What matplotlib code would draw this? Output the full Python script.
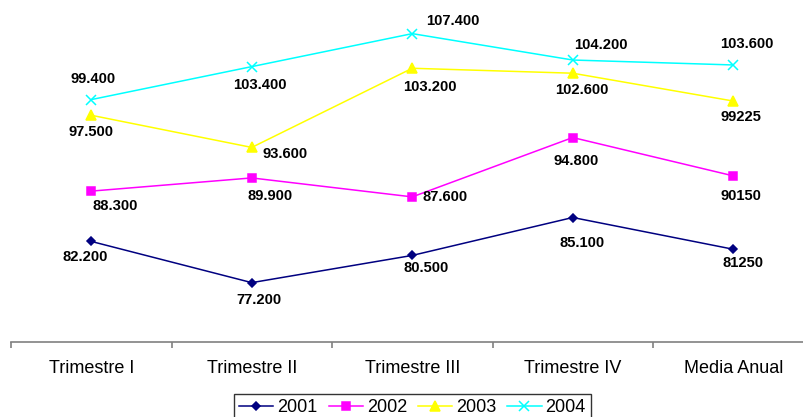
import matplotlib
matplotlib.use("Agg")
import matplotlib.pyplot as plt

plt.rcParams['font.family'] = ['Liberation Sans', 'DejaVu Sans']

# quarterly figures per year, plus the yearly mean
categories = ['Trimestre I', 'Trimestre II', 'Trimestre III', 'Trimestre IV', 'Media Anual']
years = ['2001', '2002', '2003', '2004']
v2001 = [82200, 77200, 80500, 85100, 81250]
v2002 = [88300, 89900, 87600, 94800, 90150]
v2003 = [97500, 93600, 103200, 102600, 99225]
v2004 = [99400, 103400, 107400, 104200, 103600]
series = [v2001, v2002, v2003, v2004]

# the computed means of 2001-2003 are printed without a thousands separator
mean_grouped = [False, False, False, True]

colors = ['#000080', '#FF00FF', '#FFFF00', '#00FFFF']
markers = ['D', 's', '^', 'x']
msizes = [4.5, 5.5, 6.5, 6.5]

# label offsets in pixels (dx right, dy down) for each point
offsets = [
    [(-6, 16), (7, 17), (14, 13), (9, 25), (10, 14)],
    [(24, 15), (18, 18), (33, 0), (3, 23), (8, 20)],
    [(0, 17), (33, 7), (18, 19), (9, 17), (8, 16)],
    [(2, -21), (8, 18), (41, -13), (28, -15), (14, -21)],
]


def fmt(v, grouped):
    if grouped:
        return f"{v:,.0f}".replace(",", ".")
    return f"{v:.0f}"


fig = plt.figure(figsize=(8.04, 4.17), dpi=100)
ax = fig.add_axes([11 / 804, 75 / 417, 802.5 / 804, 329.8 / 417])

x = list(range(len(categories)))
lines = []
for i, vals in enumerate(series):
    ln, = ax.plot(x, vals, color=colors[i], marker=markers[i], markersize=msizes[i],
                  markeredgewidth=1.1, linewidth=1.1, label=years[i], clip_on=False)
    lines.append(ln)
    for j, v in enumerate(vals):
        grouped = mean_grouped[i] if j == len(vals) - 1 else True
        dx, dy = offsets[i][j]
        ax.annotate(fmt(v, grouped), (x[j], v), xytext=(dx, -dy),
                    textcoords='offset pixels', ha='center', va='center',
                    fontsize=10.6, fontweight='bold', color='black')

ax.set_xlim(-0.5, len(categories) - 0.5)
ax.set_ylim(70000, 110000)

for s in ['top', 'right', 'left']:
    ax.spines[s].set_visible(False)
ax.spines['bottom'].set_color('#808080')
ax.spines['bottom'].set_linewidth(1.2)
ax.set_yticks([])

# category boundaries as major ticks, names on minor ticks
ax.set_xticks([k - 0.5 for k in range(len(categories) + 1)])
ax.set_xticklabels([])
ax.set_xticks(x, minor=True)
ax.set_xticklabels(categories, minor=True, fontsize=13)
ax.tick_params(axis='x', which='major', length=4, width=1.2, color='#808080', direction='out')
ax.tick_params(axis='x', which='minor', length=0, pad=13)

leg = fig.legend(handles=lines, labels=years, loc='upper center', ncol=4,
                 bbox_to_anchor=(0.513, 23 / 417), borderaxespad=0, fontsize=13,
                 frameon=True, fancybox=False, edgecolor='black', handlelength=1.9,
                 handletextpad=0.22, columnspacing=0.6, borderpad=0.3)
leg.get_frame().set_linewidth(1.0)

fig.savefig('out.png', dpi=100)
